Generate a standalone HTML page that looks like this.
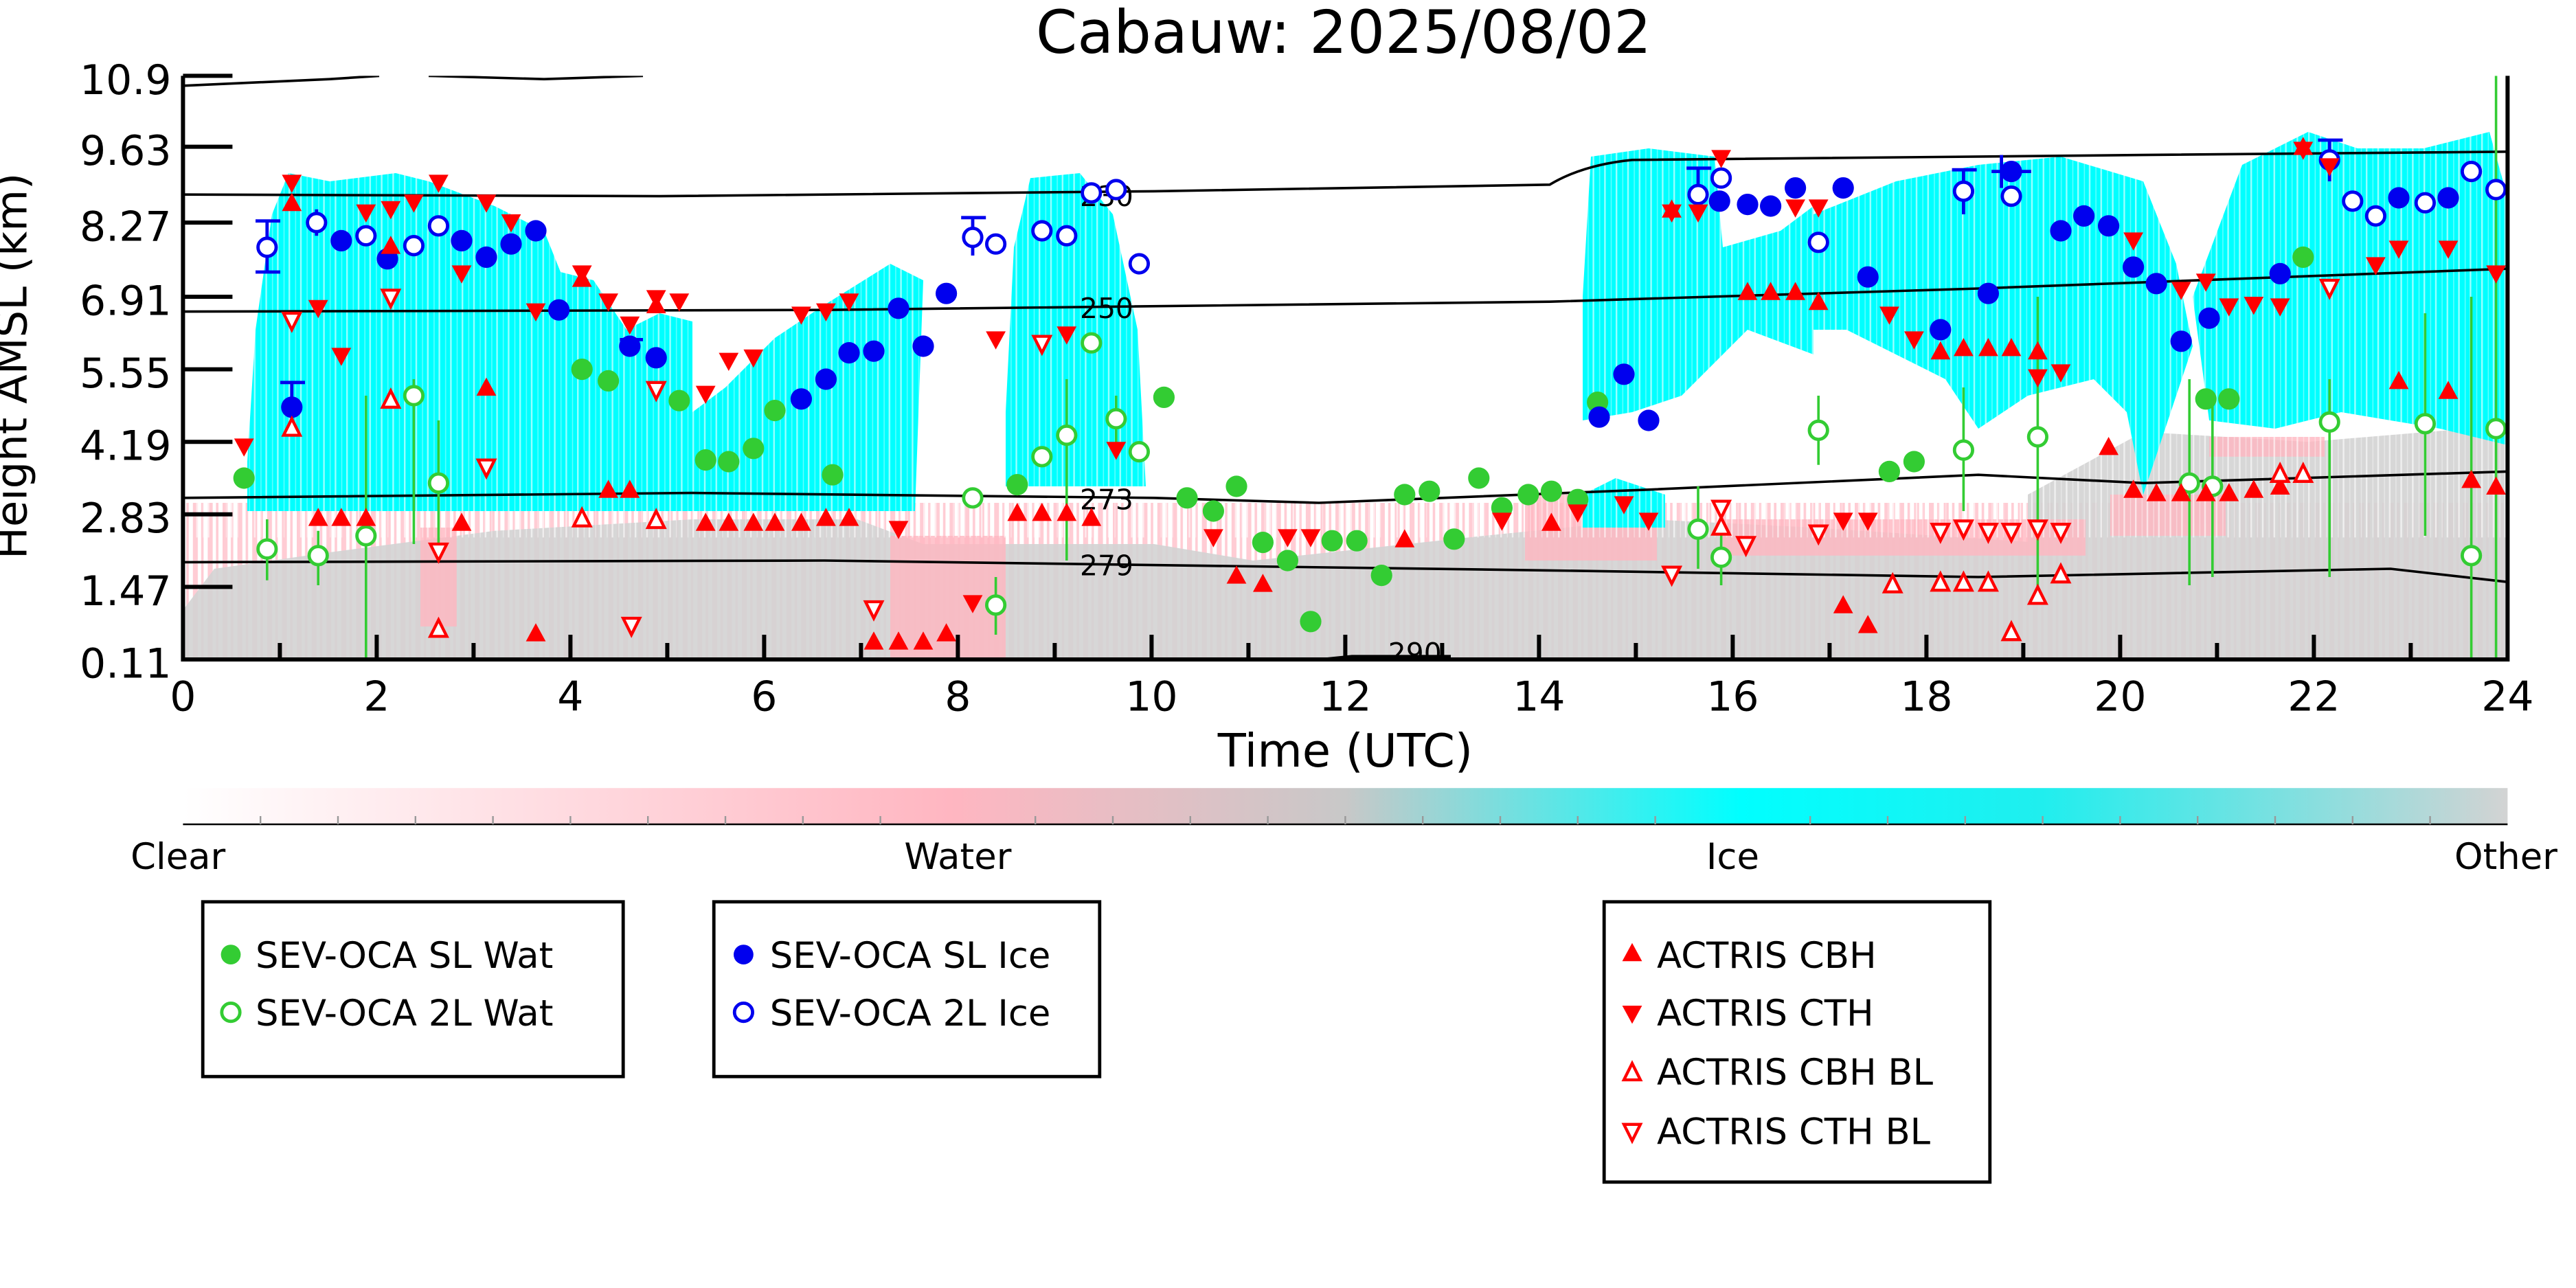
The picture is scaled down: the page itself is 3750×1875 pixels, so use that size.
<!DOCTYPE html>
<html><head><meta charset="utf-8"><style>html,body{margin:0;padding:0;background:#fff}svg{display:block}</style></head>
<body>
<svg xmlns="http://www.w3.org/2000/svg" width="3750" height="1875" viewBox="0 0 1562.5 781.25" font-family="'DejaVu Sans','Liberation Sans',sans-serif">
<defs>
<linearGradient id="cb" x1="0" x2="1" y1="0" y2="0">
<stop offset="0" stop-color="#ffffff"/><stop offset="0.33" stop-color="#ffb6c1"/><stop offset="0.5" stop-color="#c8c8c8"/><stop offset="0.67" stop-color="#00ffff"/><stop offset="0.8" stop-color="#20eeee"/><stop offset="1" stop-color="#d3d3d3"/>
</linearGradient>
<pattern id="str" width="7" height="400" patternUnits="userSpaceOnUse"><rect x="0" y="0" width="1" height="400" fill="#fff" opacity="0.6"/><rect x="4" y="0" width="0.6" height="400" fill="#fff" opacity="0.4"/></pattern>
<pattern id="pk" width="9" height="400" patternUnits="userSpaceOnUse"><rect x="0" y="0" width="3" height="400" fill="#ffb6c1"/><rect x="5" y="0" width="1.5" height="400" fill="#ffb6c1"/></pattern>
<clipPath id="pc"><rect x="111" y="46" width="1410" height="354"/></clipPath>
</defs>
<text x="815" y="32" font-size="36" text-anchor="middle">Cabauw: 2025/08/02</text>
<g clip-path="url(#pc)">
<!-- pink streaks (behind) -->
<rect x="112" y="305" width="1409" height="95" fill="url(#pk)" opacity="0.7"/>
<!-- gray base -->
<g fill="#d3d3d3" opacity="0.9">
<polygon points="111,400 111,370 130,345 200,335 300,322 420,315 520,315 560,330 700,330 760,340 900,325 1000,315 1100,320 1250,330 1300,322 1521,322 1521,400"/>
<polygon points="1230,300 1300,262 1400,268 1521,258 1521,330 1230,330"/>
</g>
<g fill="#ffb6c1" opacity="0.8">
<rect x="540" y="325" width="70" height="75"/><rect x="255" y="320" width="22" height="60"/>
<rect x="925" y="300" width="80" height="40"/><rect x="1045" y="315" width="220" height="22"/>
<rect x="1280" y="300" width="70" height="25"/><rect x="1340" y="265" width="70" height="12"/>
</g>
<!-- cyan -->
<g fill="#00ffff">
<polygon points="150,280 155,200 165,130 175,105 200,110 240,105 260,110 300,125 330,140 340,165 360,170 380,200 400,190 420,195 420,310 150,310"/>
<polygon points="420,250 440,235 470,205 500,185 540,160 560,170 555,310 420,310"/>
<polygon points="610,250 615,150 625,108 655,105 675,130 690,200 695,295 610,295"/>
<polygon points="960,180 965,95 1000,90 1040,95 1045,150 1080,140 1100,125 1100,215 1060,200 1020,240 990,250 960,255"/>
<polygon points="1100,130 1150,110 1200,100 1250,95 1300,110 1320,160 1330,210 1300,300 1290,250 1270,230 1230,240 1200,260 1180,230 1120,200 1100,200"/>
<polygon points="1330,180 1360,100 1400,80 1430,90 1470,90 1510,80 1521,120 1521,270 1480,260 1420,250 1380,260 1340,255"/>
<polygon points="960,300 980,290 1010,300 1010,320 960,320"/>
</g>
<rect x="111" y="46" width="1410" height="280" fill="url(#str)"/>
<!-- contour lines -->
<g fill="none" stroke="#000" stroke-width="1.5">
<path d="M111,52 L200,48 L230,46 M260,46 L330,48 L390,46"/>
<path d="M111,118 L400,119 L700,116 L940,112 Q960,100 990,97 L1300,94 L1521,92"/>
<path d="M111,189 L500,188 L940,183 L1200,175 L1521,163"/>
<path d="M111,302 L420,299 L700,302 L800,305 L1000,297 L1200,288 L1300,293 L1521,286"/>
<path d="M111,341 L500,340 L940,346 L1200,350 L1450,345 L1521,353"/>
<path d="M800,400 L820,398 L880,398"/>
</g>
<g font-size="17" fill="#000">
<text x="655" y="125">230</text><text x="655" y="193">250</text><text x="655" y="309">273</text><text x="655" y="349">279</text><text x="842" y="402">290</text>
</g>
<!-- markers -->
<g fill="#33cc33">
<circle cx="148" cy="290" r="6.5"/><circle cx="353" cy="224" r="6.5"/><circle cx="369" cy="231" r="6.5"/><circle cx="412" cy="243" r="6.5"/><circle cx="428" cy="279" r="6.5"/><circle cx="442" cy="280" r="6.5"/><circle cx="457" cy="272" r="6.5"/><circle cx="470" cy="249" r="6.5"/><circle cx="505" cy="288" r="6.5"/><circle cx="617" cy="294" r="6.5"/><circle cx="706" cy="241" r="6.5"/><circle cx="720" cy="302" r="6.5"/><circle cx="736" cy="310" r="6.5"/><circle cx="750" cy="295" r="6.5"/><circle cx="766" cy="329" r="6.5"/><circle cx="781" cy="340" r="6.5"/><circle cx="795" cy="377" r="6.5"/><circle cx="808" cy="328" r="6.5"/><circle cx="823" cy="328" r="6.5"/><circle cx="838" cy="349" r="6.5"/><circle cx="852" cy="300" r="6.5"/><circle cx="867" cy="298" r="6.5"/><circle cx="882" cy="327" r="6.5"/><circle cx="897" cy="290" r="6.5"/><circle cx="911" cy="308" r="6.5"/><circle cx="927" cy="300" r="6.5"/><circle cx="941" cy="298" r="6.5"/><circle cx="957" cy="303" r="6.5"/><circle cx="969" cy="244" r="6.5"/><circle cx="1146" cy="286" r="6.5"/><circle cx="1161" cy="280" r="6.5"/><circle cx="1338" cy="242" r="6.5"/><circle cx="1352" cy="242" r="6.5"/><circle cx="1397" cy="156" r="6.5"/>
</g>
<g fill="#fff" stroke="#33cc33" stroke-width="2">
<path d="M222,240 V400 M251,230 V330 M647,230 V340 M1236,180 V360 M1413,230 V350 M1514,46 V400 M1499,180 V400 M1103,240 V282 M1191,235 V310 M1030,295 V345 M1044,320 V355 M604,350 V385 M677,240 V270 M266,255 V330 M162,315 V352 M193,322 V355 M1328,230 V355 M1342,240 V350 M1471,190 V325" fill="none" stroke-width="1.5"/>
<circle cx="162" cy="333" r="5.5"/><circle cx="193" cy="337" r="5.5"/><circle cx="222" cy="325" r="5.5"/><circle cx="251" cy="240" r="5.5"/><circle cx="266" cy="293" r="5.5"/><circle cx="590" cy="302" r="5.5"/><circle cx="604" cy="367" r="5.5"/><circle cx="632" cy="277" r="5.5"/><circle cx="647" cy="264" r="5.5"/><circle cx="662" cy="208" r="5.5"/><circle cx="677" cy="254" r="5.5"/><circle cx="691" cy="274" r="5.5"/><circle cx="1030" cy="321" r="5.5"/><circle cx="1044" cy="338" r="5.5"/><circle cx="1103" cy="261" r="5.5"/><circle cx="1191" cy="273" r="5.5"/><circle cx="1236" cy="265" r="5.5"/><circle cx="1328" cy="293" r="5.5"/><circle cx="1342" cy="295" r="5.5"/><circle cx="1413" cy="256" r="5.5"/><circle cx="1471" cy="257" r="5.5"/><circle cx="1499" cy="337" r="5.5"/><circle cx="1514" cy="260" r="5.5"/>
</g>
<g fill="#0000ee">
<circle cx="177" cy="247" r="6.5"/><circle cx="207" cy="146" r="6.5"/><circle cx="235" cy="157" r="6.5"/><circle cx="280" cy="146" r="6.5"/><circle cx="295" cy="156" r="6.5"/><circle cx="310" cy="148" r="6.5"/><circle cx="325" cy="140" r="6.5"/><circle cx="339" cy="188" r="6.5"/><circle cx="382" cy="210" r="6.5"/><circle cx="398" cy="217" r="6.5"/><circle cx="486" cy="242" r="6.5"/><circle cx="501" cy="230" r="6.5"/><circle cx="515" cy="214" r="6.5"/><circle cx="530" cy="213" r="6.5"/><circle cx="545" cy="187" r="6.5"/><circle cx="560" cy="210" r="6.5"/><circle cx="574" cy="178" r="6.5"/><circle cx="985" cy="227" r="6.5"/><circle cx="1000" cy="255" r="6.5"/><circle cx="970" cy="253" r="6.5"/><circle cx="1043" cy="122" r="6.5"/><circle cx="1060" cy="124" r="6.5"/><circle cx="1074" cy="125" r="6.5"/><circle cx="1089" cy="114" r="6.5"/><circle cx="1118" cy="114" r="6.5"/><circle cx="1133" cy="168" r="6.5"/><circle cx="1177" cy="200" r="6.5"/><circle cx="1206" cy="178" r="6.5"/><circle cx="1220" cy="104" r="6.5"/><circle cx="1250" cy="140" r="6.5"/><circle cx="1264" cy="131" r="6.5"/><circle cx="1279" cy="137" r="6.5"/><circle cx="1294" cy="162" r="6.5"/><circle cx="1308" cy="172" r="6.5"/><circle cx="1323" cy="207" r="6.5"/><circle cx="1383" cy="166" r="6.5"/><circle cx="1340" cy="193" r="6.5"/><circle cx="1485" cy="120" r="6.5"/><circle cx="1455" cy="120" r="6.5"/>
<path d="M170,232 H185 M177,232 V262 M376,206 H390 M1208,104 H1232 M1214,94 V114" stroke="#0000ee" stroke-width="2" fill="none"/>
</g>
<g fill="#fff" stroke="#0000ee" stroke-width="2">
<path d="M162,134 V165 M155,134 H170 M155,165 H170 M192,127 V143 M590,132 V155 M583,132 H598 M1030,102 V133 M1023,102 H1038 M1191,103 V130 M1184,103 H1199 M1413,85 V110 M1406,85 H1421" fill="none"/>
<circle cx="162" cy="150" r="5.5"/><circle cx="192" cy="135" r="5.5"/><circle cx="222" cy="143" r="5.5"/><circle cx="251" cy="149" r="5.5"/><circle cx="266" cy="137" r="5.5"/><circle cx="590" cy="144" r="5.5"/><circle cx="604" cy="148" r="5.5"/><circle cx="632" cy="140" r="5.5"/><circle cx="647" cy="143" r="5.5"/><circle cx="662" cy="117" r="5.5"/><circle cx="677" cy="115" r="5.5"/><circle cx="691" cy="160" r="5.5"/><circle cx="1030" cy="118" r="5.5"/><circle cx="1044" cy="108" r="5.5"/><circle cx="1103" cy="147" r="5.5"/><circle cx="1191" cy="116" r="5.5"/><circle cx="1220" cy="119" r="5.5"/><circle cx="1413" cy="97" r="5.5"/><circle cx="1427" cy="122" r="5.5"/><circle cx="1441" cy="131" r="5.5"/><circle cx="1471" cy="123" r="5.5"/><circle cx="1499" cy="104" r="5.5"/><circle cx="1514" cy="115" r="5.5"/>
</g>
<!-- red CBH up -->
<g fill="#ff0000">
<path d="M0,-7 L6,4 L-6,4Z" transform="translate(177,124)"/>
<path d="M0,-7 L6,4 L-6,4Z" transform="translate(193,315)"/><path d="M0,-7 L6,4 L-6,4Z" transform="translate(207,315)"/><path d="M0,-7 L6,4 L-6,4Z" transform="translate(222,315)"/><path d="M0,-7 L6,4 L-6,4Z" transform="translate(237,150)"/><path d="M0,-7 L6,4 L-6,4Z" transform="translate(280,318)"/><path d="M0,-7 L6,4 L-6,4Z" transform="translate(295,236)"/><path d="M0,-7 L6,4 L-6,4Z" transform="translate(325,385)"/><path d="M0,-7 L6,4 L-6,4Z" transform="translate(353,170)"/><path d="M0,-7 L6,4 L-6,4Z" transform="translate(369,298)"/><path d="M0,-7 L6,4 L-6,4Z" transform="translate(382,298)"/><path d="M0,-7 L6,4 L-6,4Z" transform="translate(398,186)"/><path d="M0,-7 L6,4 L-6,4Z" transform="translate(428,318)"/><path d="M0,-7 L6,4 L-6,4Z" transform="translate(442,318)"/><path d="M0,-7 L6,4 L-6,4Z" transform="translate(457,318)"/><path d="M0,-7 L6,4 L-6,4Z" transform="translate(470,318)"/><path d="M0,-7 L6,4 L-6,4Z" transform="translate(486,318)"/><path d="M0,-7 L6,4 L-6,4Z" transform="translate(501,315)"/><path d="M0,-7 L6,4 L-6,4Z" transform="translate(515,315)"/><path d="M0,-7 L6,4 L-6,4Z" transform="translate(530,390)"/><path d="M0,-7 L6,4 L-6,4Z" transform="translate(545,390)"/><path d="M0,-7 L6,4 L-6,4Z" transform="translate(560,390)"/><path d="M0,-7 L6,4 L-6,4Z" transform="translate(574,385)"/><path d="M0,-7 L6,4 L-6,4Z" transform="translate(617,312)"/><path d="M0,-7 L6,4 L-6,4Z" transform="translate(632,312)"/><path d="M0,-7 L6,4 L-6,4Z" transform="translate(647,312)"/><path d="M0,-7 L6,4 L-6,4Z" transform="translate(662,315)"/><path d="M0,-7 L6,4 L-6,4Z" transform="translate(750,350)"/><path d="M0,-7 L6,4 L-6,4Z" transform="translate(766,355)"/><path d="M0,-7 L6,4 L-6,4Z" transform="translate(852,328)"/><path d="M0,-7 L6,4 L-6,4Z" transform="translate(941,318)"/><path d="M0,-7 L6,4 L-6,4Z" transform="translate(1014,128)"/><path d="M0,-7 L6,4 L-6,4Z" transform="translate(1060,178)"/><path d="M0,-7 L6,4 L-6,4Z" transform="translate(1074,178)"/><path d="M0,-7 L6,4 L-6,4Z" transform="translate(1089,178)"/><path d="M0,-7 L6,4 L-6,4Z" transform="translate(1103,184)"/><path d="M0,-7 L6,4 L-6,4Z" transform="translate(1118,368)"/><path d="M0,-7 L6,4 L-6,4Z" transform="translate(1133,380)"/><path d="M0,-7 L6,4 L-6,4Z" transform="translate(1177,214)"/><path d="M0,-7 L6,4 L-6,4Z" transform="translate(1191,212)"/><path d="M0,-7 L6,4 L-6,4Z" transform="translate(1206,212)"/><path d="M0,-7 L6,4 L-6,4Z" transform="translate(1220,212)"/><path d="M0,-7 L6,4 L-6,4Z" transform="translate(1236,214)"/><path d="M0,-7 L6,4 L-6,4Z" transform="translate(1279,272)"/><path d="M0,-7 L6,4 L-6,4Z" transform="translate(1294,298)"/><path d="M0,-7 L6,4 L-6,4Z" transform="translate(1308,300)"/><path d="M0,-7 L6,4 L-6,4Z" transform="translate(1323,300)"/><path d="M0,-7 L6,4 L-6,4Z" transform="translate(1338,300)"/><path d="M0,-7 L6,4 L-6,4Z" transform="translate(1352,300)"/><path d="M0,-7 L6,4 L-6,4Z" transform="translate(1367,298)"/><path d="M0,-7 L6,4 L-6,4Z" transform="translate(1383,296)"/><path d="M0,-7 L6,4 L-6,4Z" transform="translate(1397,90)"/><path d="M0,-7 L6,4 L-6,4Z" transform="translate(1455,232)"/><path d="M0,-7 L6,4 L-6,4Z" transform="translate(1485,238)"/><path d="M0,-7 L6,4 L-6,4Z" transform="translate(1514,296)"/><path d="M0,-7 L6,4 L-6,4Z" transform="translate(1499,292)"/>
</g>
<!-- red CTH down -->
<g fill="#ff0000">
<path d="M0,7 L6,-4 L-6,-4Z" transform="translate(148,270)"/><path d="M0,7 L6,-4 L-6,-4Z" transform="translate(177,110)"/><path d="M0,7 L6,-4 L-6,-4Z" transform="translate(193,186)"/><path d="M0,7 L6,-4 L-6,-4Z" transform="translate(207,215)"/><path d="M0,7 L6,-4 L-6,-4Z" transform="translate(222,128)"/><path d="M0,7 L6,-4 L-6,-4Z" transform="translate(237,126)"/><path d="M0,7 L6,-4 L-6,-4Z" transform="translate(251,122)"/><path d="M0,7 L6,-4 L-6,-4Z" transform="translate(266,110)"/><path d="M0,7 L6,-4 L-6,-4Z" transform="translate(280,165)"/><path d="M0,7 L6,-4 L-6,-4Z" transform="translate(295,122)"/><path d="M0,7 L6,-4 L-6,-4Z" transform="translate(310,134)"/><path d="M0,7 L6,-4 L-6,-4Z" transform="translate(325,188)"/><path d="M0,7 L6,-4 L-6,-4Z" transform="translate(353,165)"/><path d="M0,7 L6,-4 L-6,-4Z" transform="translate(369,182)"/><path d="M0,7 L6,-4 L-6,-4Z" transform="translate(382,196)"/><path d="M0,7 L6,-4 L-6,-4Z" transform="translate(398,180)"/><path d="M0,7 L6,-4 L-6,-4Z" transform="translate(412,182)"/><path d="M0,7 L6,-4 L-6,-4Z" transform="translate(428,238)"/><path d="M0,7 L6,-4 L-6,-4Z" transform="translate(442,218)"/><path d="M0,7 L6,-4 L-6,-4Z" transform="translate(457,216)"/><path d="M0,7 L6,-4 L-6,-4Z" transform="translate(486,190)"/><path d="M0,7 L6,-4 L-6,-4Z" transform="translate(501,188)"/><path d="M0,7 L6,-4 L-6,-4Z" transform="translate(515,182)"/><path d="M0,7 L6,-4 L-6,-4Z" transform="translate(545,320)"/><path d="M0,7 L6,-4 L-6,-4Z" transform="translate(590,365)"/><path d="M0,7 L6,-4 L-6,-4Z" transform="translate(604,205)"/><path d="M0,7 L6,-4 L-6,-4Z" transform="translate(647,202)"/><path d="M0,7 L6,-4 L-6,-4Z" transform="translate(677,272)"/><path d="M0,7 L6,-4 L-6,-4Z" transform="translate(736,325)"/><path d="M0,7 L6,-4 L-6,-4Z" transform="translate(781,325)"/><path d="M0,7 L6,-4 L-6,-4Z" transform="translate(795,325)"/><path d="M0,7 L6,-4 L-6,-4Z" transform="translate(911,315)"/><path d="M0,7 L6,-4 L-6,-4Z" transform="translate(957,310)"/><path d="M0,7 L6,-4 L-6,-4Z" transform="translate(985,305)"/><path d="M0,7 L6,-4 L-6,-4Z" transform="translate(1000,315)"/><path d="M0,7 L6,-4 L-6,-4Z" transform="translate(1014,128)"/><path d="M0,7 L6,-4 L-6,-4Z" transform="translate(1030,128)"/><path d="M0,7 L6,-4 L-6,-4Z" transform="translate(1044,95)"/><path d="M0,7 L6,-4 L-6,-4Z" transform="translate(1089,125)"/><path d="M0,7 L6,-4 L-6,-4Z" transform="translate(1103,125)"/><path d="M0,7 L6,-4 L-6,-4Z" transform="translate(1118,315)"/><path d="M0,7 L6,-4 L-6,-4Z" transform="translate(1133,315)"/><path d="M0,7 L6,-4 L-6,-4Z" transform="translate(1146,190)"/><path d="M0,7 L6,-4 L-6,-4Z" transform="translate(1161,205)"/><path d="M0,7 L6,-4 L-6,-4Z" transform="translate(1236,228)"/><path d="M0,7 L6,-4 L-6,-4Z" transform="translate(1250,225)"/><path d="M0,7 L6,-4 L-6,-4Z" transform="translate(1294,145)"/><path d="M0,7 L6,-4 L-6,-4Z" transform="translate(1323,175)"/><path d="M0,7 L6,-4 L-6,-4Z" transform="translate(1338,170)"/><path d="M0,7 L6,-4 L-6,-4Z" transform="translate(1352,185)"/><path d="M0,7 L6,-4 L-6,-4Z" transform="translate(1367,184)"/><path d="M0,7 L6,-4 L-6,-4Z" transform="translate(1383,185)"/><path d="M0,7 L6,-4 L-6,-4Z" transform="translate(1397,90)"/><path d="M0,7 L6,-4 L-6,-4Z" transform="translate(1413,100)"/><path d="M0,7 L6,-4 L-6,-4Z" transform="translate(1441,160)"/><path d="M0,7 L6,-4 L-6,-4Z" transform="translate(1455,150)"/><path d="M0,7 L6,-4 L-6,-4Z" transform="translate(1485,150)"/><path d="M0,7 L6,-4 L-6,-4Z" transform="translate(1514,165)"/>
</g>
<g fill="#fff" stroke="#ff0000" stroke-width="1.8">
<path d="M0,-6 L5,4 L-5,4Z" transform="translate(237,243)"/><path d="M0,-6 L5,4 L-5,4Z" transform="translate(266,382)"/><path d="M0,-6 L5,4 L-5,4Z" transform="translate(353,315)"/><path d="M0,-6 L5,4 L-5,4Z" transform="translate(398,316)"/><path d="M0,-6 L5,4 L-5,4Z" transform="translate(1044,320)"/><path d="M0,-6 L5,4 L-5,4Z" transform="translate(1148,355)"/><path d="M0,-6 L5,4 L-5,4Z" transform="translate(1177,354)"/><path d="M0,-6 L5,4 L-5,4Z" transform="translate(1191,354)"/><path d="M0,-6 L5,4 L-5,4Z" transform="translate(1206,354)"/><path d="M0,-6 L5,4 L-5,4Z" transform="translate(1220,384)"/><path d="M0,-6 L5,4 L-5,4Z" transform="translate(1250,349)"/><path d="M0,-6 L5,4 L-5,4Z" transform="translate(1236,362)"/><path d="M0,-6 L5,4 L-5,4Z" transform="translate(1397,288)"/><path d="M0,-6 L5,4 L-5,4Z" transform="translate(1383,288)"/><path d="M0,-6 L5,4 L-5,4Z" transform="translate(177,260)"/>
<path d="M0,6 L5,-4 L-5,-4Z" transform="translate(177,194)"/><path d="M0,6 L5,-4 L-5,-4Z" transform="translate(237,180)"/><path d="M0,6 L5,-4 L-5,-4Z" transform="translate(295,283)"/><path d="M0,6 L5,-4 L-5,-4Z" transform="translate(266,334)"/><path d="M0,6 L5,-4 L-5,-4Z" transform="translate(383,379)"/><path d="M0,6 L5,-4 L-5,-4Z" transform="translate(398,236)"/><path d="M0,6 L5,-4 L-5,-4Z" transform="translate(530,369)"/><path d="M0,6 L5,-4 L-5,-4Z" transform="translate(632,208)"/><path d="M0,6 L5,-4 L-5,-4Z" transform="translate(1014,348)"/><path d="M0,6 L5,-4 L-5,-4Z" transform="translate(1044,308)"/><path d="M0,6 L5,-4 L-5,-4Z" transform="translate(1059,330)"/><path d="M0,6 L5,-4 L-5,-4Z" transform="translate(1103,323)"/><path d="M0,6 L5,-4 L-5,-4Z" transform="translate(1177,322)"/><path d="M0,6 L5,-4 L-5,-4Z" transform="translate(1191,320)"/><path d="M0,6 L5,-4 L-5,-4Z" transform="translate(1206,322)"/><path d="M0,6 L5,-4 L-5,-4Z" transform="translate(1220,322)"/><path d="M0,6 L5,-4 L-5,-4Z" transform="translate(1236,320)"/><path d="M0,6 L5,-4 L-5,-4Z" transform="translate(1250,322)"/><path d="M0,6 L5,-4 L-5,-4Z" transform="translate(1413,174)"/>
</g>
</g>
<!-- axes -->
<g stroke="#000" stroke-width="2.5" fill="none">
<path d="M111,46 V400 H1521 V46"/>
<path d="M111,46 h30 M111,89 h30 M111,135 h30 M111,180 h30 M111,224 h30 M111,268 h30 M111,312 h30 M111,356 h30"/>
<path d="M169.75,400 v-10 M228.5,400 v-15 M287.25,400 v-10 M346,400 v-15 M404.75,400 v-10 M463.5,400 v-15 M522.25,400 v-10 M581,400 v-15 M639.75,400 v-10 M698.5,400 v-15 M757.25,400 v-10 M816,400 v-15 M874.75,400 v-10 M933.5,400 v-15 M992.25,400 v-10 M1051,400 v-15 M1109.75,400 v-10 M1168.5,400 v-15 M1227.25,400 v-10 M1286,400 v-15 M1344.75,400 v-10 M1403.5,400 v-15 M1462.25,400 v-10"/>
</g>
<g font-size="25" text-anchor="end">
<text x="104" y="57">10.9</text><text x="104" y="100">9.63</text><text x="104" y="146">8.27</text><text x="104" y="191">6.91</text><text x="104" y="235">5.55</text><text x="104" y="279">4.19</text><text x="104" y="323">2.83</text><text x="104" y="367">1.47</text><text x="104" y="411">0.11</text>
</g>
<g font-size="25" text-anchor="middle">
<text x="111" y="431">0</text><text x="228.5" y="431">2</text><text x="346" y="431">4</text><text x="463.5" y="431">6</text><text x="581" y="431">8</text><text x="698.5" y="431">10</text><text x="816" y="431">12</text><text x="933.5" y="431">14</text><text x="1051" y="431">16</text><text x="1168.5" y="431">18</text><text x="1286" y="431">20</text><text x="1403.5" y="431">22</text><text x="1521" y="431">24</text>
</g>
<text x="816" y="465" font-size="28" text-anchor="middle">Time (UTC)</text>
<text transform="translate(16,222) rotate(-90)" font-size="26" text-anchor="middle">Height AMSL (km)</text>
<!-- colorbar -->
<rect x="111" y="478" width="1410" height="22" fill="url(#cb)"/>
<line x1="111" y1="500" x2="1521" y2="500" stroke="#000" stroke-width="1"/>
<g stroke="#999" stroke-width="1"><path d="M158,500 v-5 M205,500 v-5 M252,500 v-5 M299,500 v-5 M346,500 v-5 M393,500 v-5 M440,500 v-5 M487,500 v-5 M534,500 v-5 M628,500 v-5 M675,500 v-5 M722,500 v-5 M769,500 v-5 M816,500 v-5 M863,500 v-5 M910,500 v-5 M957,500 v-5 M1004,500 v-5 M1098,500 v-5 M1145,500 v-5 M1192,500 v-5 M1239,500 v-5 M1286,500 v-5 M1333,500 v-5 M1380,500 v-5 M1427,500 v-5 M1474,500 v-5"/></g>
<g font-size="22" text-anchor="middle"><text x="108" y="527">Clear</text><text x="581" y="527">Water</text><text x="1051" y="527">Ice</text><text x="1520" y="527">Other</text></g>
<!-- legends -->
<g fill="none" stroke="#000" stroke-width="2"><rect x="123" y="547" width="255" height="106"/><rect x="433" y="547" width="234" height="106"/><rect x="973" y="547" width="234" height="170"/></g>
<g font-size="22">
<circle cx="140" cy="579" r="6" fill="#33cc33"/><text x="155" y="587">SEV-OCA SL Wat</text>
<circle cx="140" cy="614" r="5.5" fill="#fff" stroke="#33cc33" stroke-width="2"/><text x="155" y="622">SEV-OCA 2L Wat</text>
<circle cx="451" cy="579" r="6" fill="#0000ee"/><text x="467" y="587">SEV-OCA SL Ice</text>
<circle cx="451" cy="614" r="5.5" fill="#fff" stroke="#0000ee" stroke-width="2"/><text x="467" y="622">SEV-OCA 2L Ice</text>
<path d="M990,572 L996,583 L984,583Z" fill="#f00"/><text x="1005" y="587">ACTRIS CBH</text>
<path d="M990,621 L996,610 L984,610Z" fill="#f00"/><text x="1005" y="622">ACTRIS CTH</text>
<path d="M990,645 L995,655 L985,655Z" fill="#fff" stroke="#f00" stroke-width="1.8"/><text x="1005" y="658">ACTRIS CBH BL</text>
<path d="M990,692 L995,682 L985,682Z" fill="#fff" stroke="#f00" stroke-width="1.8"/><text x="1005" y="694">ACTRIS CTH BL</text>
</g>
</svg>
</body></html>
